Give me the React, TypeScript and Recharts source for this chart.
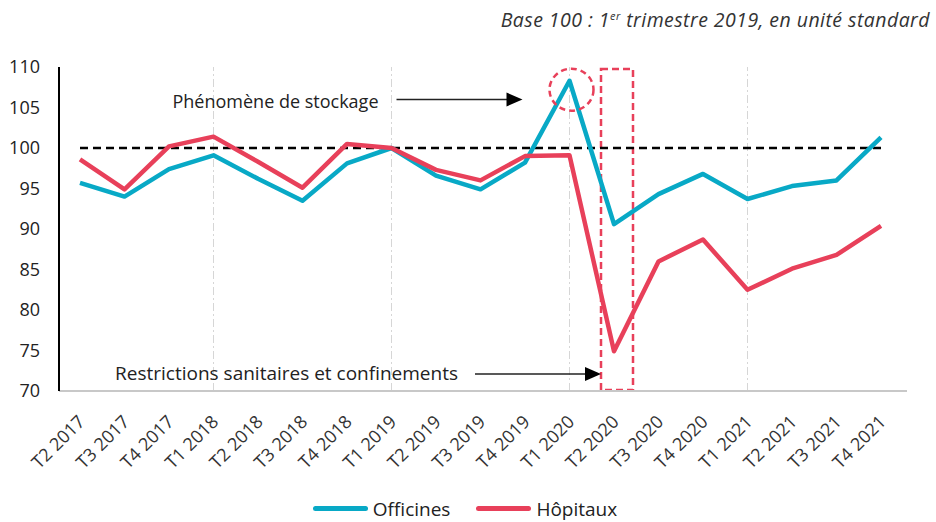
import {
  LineChart,
  Line,
  XAxis,
  YAxis,
  Legend,
  ReferenceLine,
  ReferenceArea,
  ReferenceDot,
} from "recharts";

const FONT = '"Open Sans", "Noto Sans", sans-serif';

const quarters = [
  "T2 2017", "T3 2017", "T4 2017",
  "T1 2018", "T2 2018", "T3 2018", "T4 2018",
  "T1 2019", "T2 2019", "T3 2019", "T4 2019",
  "T1 2020", "T2 2020", "T3 2020", "T4 2020",
  "T1 2021", "T2 2021", "T3 2021", "T4 2021",
];
const officines = [
  95.7, 94.0, 97.4,
  99.1, 96.2, 93.5, 98.1,
  100, 96.6, 94.9, 98.2,
  108.3, 90.6, 94.3, 96.8,
  93.7, 95.3, 96.0, 101.3,
];
const hopitaux = [
  98.6, 94.9, 100.2,
  101.4, 98.3, 95.1, 100.5,
  100, 97.3, 96.0, 99.0,
  99.1, 74.9, 86.0, 88.7,
  82.5, 85.1, 86.8, 90.4,
];
const seriesNames = ["Officines", "Hôpitaux"];
const yTicks = [70, 75, 80, 85, 90, 95, 100, 105, 110];
const yearStarts = ["T1 2018", "T1 2019", "T1 2020", "T1 2021"];

const data = quarters.map((q, i) => ({
  q,
  officines: officines[i],
  hopitaux: hopitaux[i],
}));

const BLUE = "#08a9c6";
const RED = "#e8405a";

const XTick = ({ x, y, payload }: any) => {
  const ax = x + 6;
  const ay = y + 30;
  return (
    <text
      x={ax}
      y={ay}
      transform={`rotate(-45 ${ax} ${ay})`}
      textAnchor="end"
      fontSize={18}
      fill="#333"
      fontFamily={FONT}
    >
      {payload.value}
    </text>
  );
};

// "Phénomène de stockage" + arrow, pinned to T1 2019
const Stockage = ({ cx, cy }: any) => (
  <g fontFamily={FONT}>
    <text x={cx - 13} y={cy} textAnchor="end" fontSize={18} fill="#222">
      Phénomène de stockage
    </text>
    <line x1={cx + 5} y1={cy - 8} x2={cx + 118} y2={cy - 8} stroke="#222" strokeWidth={1.5} />
    <polygon points={`${cx + 131},${cy - 8} ${cx + 115},${cy - 15} ${cx + 115},${cy - 1}`} fill="#000" />
  </g>
);

const Peak = ({ cx, cy }: any) => (
  <ellipse cx={cx + 2} cy={cy} rx={22} ry={21} fill="none" stroke={RED} strokeWidth={2.5} strokeDasharray="6 4" />
);

const Restrictions = ({ cx, cy }: any) => (
  <g fontFamily={FONT}>
    <text x={cx - 156} y={cy} textAnchor="end" fontSize={19} fill="#222">
      Restrictions sanitaires et confinements
    </text>
    <line x1={cx - 139} y1={cy - 6.5} x2={cx - 28} y2={cy - 6.5} stroke="#222" strokeWidth={1.5} />
    <polygon points={`${cx - 13},${cy - 6.5} ${cx - 29},${cy - 13.5} ${cx - 29},${cy + 0.5}`} fill="#000" />
  </g>
);

const CovidBox = ({ x, y, height }: any) => (
  <rect x={x - 13} y={y + 2} width={32} height={height - 3} fill="none" stroke={RED} strokeWidth={2.5} strokeDasharray="7 4" />
);

const LegendContent = ({ payload }: any) => {
  const items = [...(payload || [])].sort(
    (a: any, b: any) => seriesNames.indexOf(a.value) - seriesNames.indexOf(b.value)
  );
  return (
    <div
      style={{
        display: "flex",
        justifyContent: "center",
        alignItems: "center",
        gap: 26,
        height: 36,
        boxSizing: "border-box",
        paddingTop: 9,
        paddingLeft: 23,
        fontSize: 19,
        lineHeight: "26px",
        color: "#222",
        fontFamily: FONT,
      }}
    >
      {items.map((p: any) => (
        <div key={p.value} style={{ display: "flex", alignItems: "center" }}>
          <span style={{ display: "inline-block", width: 55, height: 5, background: p.color, borderRadius: 3, marginRight: 5 }} />
          <span>{p.value}</span>
        </div>
      ))}
    </div>
  );
};

export default function App() {
  return (
    <div style={{ position: "absolute", left: 0, top: 0, width: 936, height: 522, background: "#fff" }}>
      <div
        style={{
          position: "absolute",
          right: 6,
          top: 6,
          fontFamily: FONT,
          fontStyle: "italic",
          fontSize: 19.5,
          letterSpacing: 0.45,
          color: "#333",
          whiteSpace: "nowrap",
        }}
      >
        Base 100 : 1<sup style={{ fontSize: 11 }}>er</sup> trimestre 2019, en unité standard
      </div>
      <LineChart width={936} height={522} data={data} margin={{ top: 67, right: 29, bottom: 0, left: 0 }}>
        <XAxis
          dataKey="q"
          height={95}
          interval={0}
          padding={{ left: 21, right: 26 }}
          tickLine={false}
          tickSize={0}
          axisLine={{ stroke: "#c8c8c8", strokeWidth: 2 }}
          tick={<XTick />}
        />
        <XAxis
          xAxisId="top"
          orientation="top"
          dataKey="q"
          height={0}
          tick={false}
          tickLine={false}
          axisLine={{ stroke: "#000", strokeWidth: 2 }}
        />
        <YAxis
          domain={[70, 110]}
          ticks={yTicks}
          width={59}
          tickLine={false}
          tickSize={0}
          tickMargin={19}
          axisLine={{ stroke: "#000", strokeWidth: 2 }}
          tick={{ fontSize: 18, fill: "#222", fontFamily: FONT }}
        />
        <YAxis
          yAxisId="right"
          orientation="right"
          width={0}
          domain={[70, 110]}
          tick={false}
          tickLine={false}
          axisLine={{ stroke: "#000", strokeWidth: 2 }}
        />
        {yearStarts.map((q) => (
          <ReferenceLine key={q} x={q} stroke="#d6d6d6" strokeWidth={1} strokeDasharray="8 3 2 3" />
        ))}
        <ReferenceLine
          segment={[
            { x: "T2 2017", y: 100 },
            { x: "T4 2021", y: 100 },
          ]}
          stroke="#000"
          strokeWidth={2.5}
          strokeDasharray="8 5"
        />
        <Line
          type="linear"
          dataKey="officines"
          name="Officines"
          stroke={BLUE}
          strokeWidth={4.5}
          dot={false}
          activeDot={false}
          strokeLinejoin="round"
          isAnimationActive={false}
        />
        <Line
          type="linear"
          dataKey="hopitaux"
          name="Hôpitaux"
          stroke={RED}
          strokeWidth={4.5}
          dot={false}
          activeDot={false}
          strokeLinejoin="round"
          isAnimationActive={false}
        />
        <ReferenceDot x="T1 2019" y={105} shape={<Stockage />} />
        <ReferenceDot x="T1 2020" y={107.2} shape={<Peak />} />
        <ReferenceArea x1="T2 2020" x2="T2 2020" y1={70} y2={110} shape={<CovidBox />} />
        <ReferenceDot x="T2 2020" y={71.3} shape={<Restrictions />} />
        <Legend verticalAlign="bottom" content={<LegendContent />} />
      </LineChart>
    </div>
  );
}
